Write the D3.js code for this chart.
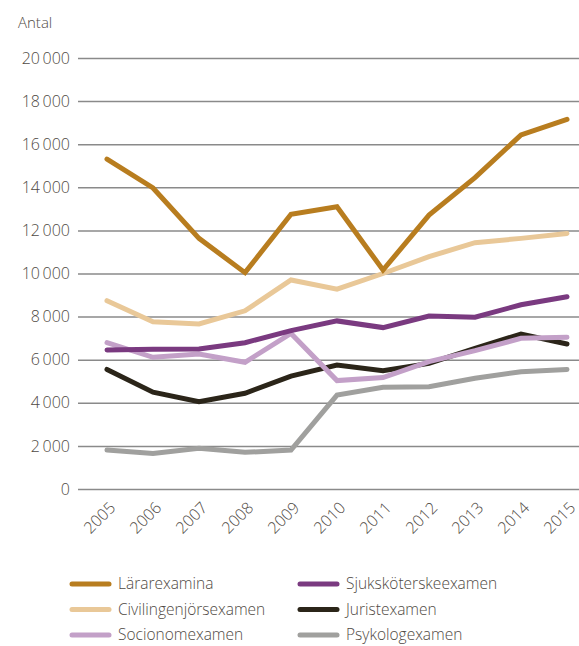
<!DOCTYPE html>
<html><head><meta charset="utf-8">
<script src="https://cdn.jsdelivr.net/npm/d3@7"></script>
<style>body{margin:0;background:#fff;} text{font-family:"Open Sans",Lato,sans-serif;font-weight:300;fill:#4f4a44;}</style>
</head><body><svg id="c" width="579" height="646"></svg>
<script>
const years = [2005,2006,2007,2008,2009,2010,2011,2012,2013,2014,2015];
const yTicks = [0,2000,4000,6000,8000,10000,12000,14000,16000,18000,20000];
const seriesNames = ["Lärarexamina","Sjuksköterskeexamen","Civilingenjörsexamen","Juristexamen","Socionomexamen","Psykologexamen"];
const lararexamina = [15310,13970,11630,10040,12750,13100,10160,12710,14450,16430,17150];
const sjukskoterske = [6450,6480,6500,6790,7350,7800,7490,8030,7970,8550,8920];
const civilingenjor = [8740,7760,7660,8270,9700,9270,10000,10780,11430,11630,11860];
const jurist = [5550,4490,4050,4440,5240,5750,5490,5830,6530,7190,6730];
const socionom = [6790,6110,6260,5880,7220,5030,5170,5910,6420,6990,7040];
const psykolog = [1810,1650,1890,1700,1810,4360,4720,4750,5140,5440,5550];
const colors = ["#b87d1f","#7a3a80","#e9c898","#2b2519","#c3a0c8","#a0a09e"];
const values = [lararexamina,sjukskoterske,civilingenjor,jurist,socionom,psykolog];
const drawOrder = [5,3,4,1,2,0];

const svg = d3.select("#c");
const x = d3.scalePoint().domain(years).range([107,567]);
const y = d3.scaleLinear().domain([0,20000]).range([489,58]);
const fmt = v => v===0 ? "0" : d3.format(",")(v).replace(",", "\u2009");

svg.append("text").attr("x",18).attr("y",28).attr("font-size",15).text("Antal");

const yAxis = svg.append("g").attr("transform","translate(78,0)")
  .call(d3.axisRight(y).tickValues(yTicks).tickSize(501).tickFormat(fmt));
yAxis.select(".domain").remove();
yAxis.selectAll(".tick line").attr("stroke","#8a8a8a").attr("stroke-width",1.5);
yAxis.selectAll(".tick text").attr("x",-8).attr("text-anchor","end")
  .attr("font-size",16).attr("fill","#4f4a44").attr("font-family","'Open Sans',sans-serif");

const xAxis = svg.append("g").attr("transform","translate(0,497)")
  .call(d3.axisBottom(x).tickSize(0).tickFormat(d=>String(d)));
xAxis.select(".domain").remove();
xAxis.selectAll(".tick text").attr("text-anchor","end").attr("dy","0.35em")
  .attr("transform","rotate(-45) translate(-2,6)")
  .attr("font-size",16).attr("fill","#4f4a44").attr("font-family","'Open Sans',sans-serif");

const line = d3.line().x((d,i)=>x(years[i])).y(d=>y(d));
drawOrder.forEach(k=>{
  svg.append("path").datum(values[k]).attr("d",line).attr("fill","none")
    .attr("stroke",colors[k]).attr("stroke-width",5).attr("stroke-linejoin","miter")
    .attr("stroke-linecap","round");
});

const legend = svg.append("g");
seriesNames.forEach((n,i)=>{
  const col = i%2, row = Math.floor(i/2);
  const lx = col ? 300 : 72, ly = 584 + row*25.5;
  legend.append("line").attr("x1",lx).attr("x2",lx+37).attr("y1",ly).attr("y2",ly)
    .attr("stroke",colors[i]).attr("stroke-width",5).attr("stroke-linecap","round");
  legend.append("text").attr("x",lx+46).attr("y",ly).attr("dy","0.33em")
    .attr("font-size",15.5).text(n);
});
</script></body></html>
